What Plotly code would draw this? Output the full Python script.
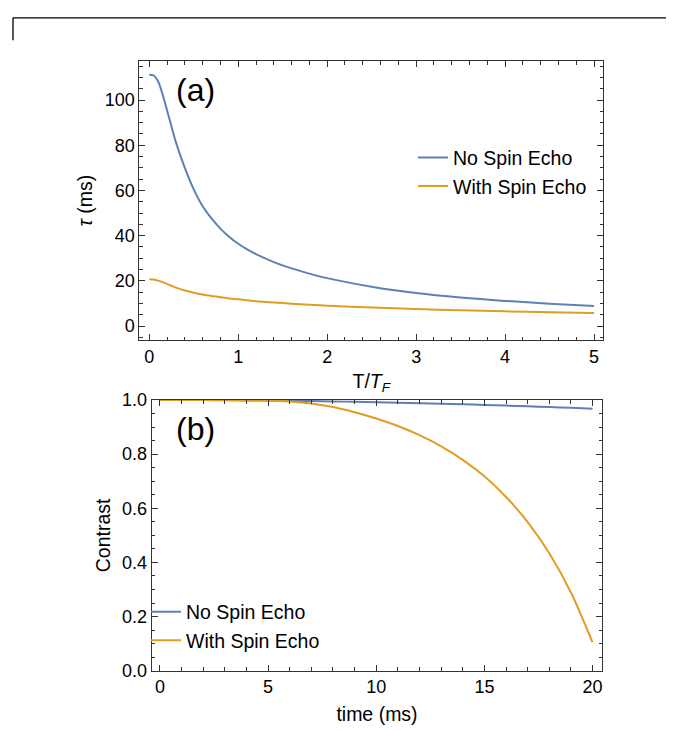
import plotly.graph_objects as go

W, H = 682, 731

# Panel (a): decay time vs reduced temperature
t_over_tf = [0.0, 0.05, 0.1, 0.15, 0.2, 0.25, 0.3, 0.4, 0.5, 0.6, 0.7, 0.8, 0.9, 1.0,
             1.1, 1.2, 1.4, 1.6, 1.8, 2.0, 2.5, 3.0, 3.5, 4.0, 4.5, 5.0]
tau_no_echo = [111.2, 110.9, 108.2, 102.5, 95.5, 88.3, 81.3, 70.0, 60.5, 53.0, 47.6, 43.1, 39.4, 36.4,
               33.9, 31.8, 28.3, 25.5, 23.2, 21.2, 17.4, 14.6, 12.6, 11.1, 9.9, 8.9]
tau_echo = [20.7, 20.6, 20.1, 19.4, 18.6, 17.8, 17.0, 15.7, 14.7, 13.9, 13.3, 12.7, 12.2, 11.8,
            11.4, 11.0, 10.4, 9.9, 9.4, 9.0, 8.2, 7.5, 7.0, 6.5, 6.1, 5.8]

# Panel (b): contrast vs time
time_ms = [0, 1, 2, 3, 4, 5, 6, 7, 8, 9, 10, 11, 12, 13, 14, 15, 16, 17, 18, 19, 20]
contrast_no_echo = [1.0, 0.9999, 0.9997, 0.9993, 0.9987, 0.9980, 0.9971, 0.9960, 0.9948, 0.9934,
                    0.9919, 0.9902, 0.9884, 0.9864, 0.9842, 0.9819, 0.9795, 0.9769, 0.9741, 0.9711, 0.9680]
contrast_echo = [1.0, 1.0, 1.0, 0.9998, 0.999, 0.998, 0.995, 0.987, 0.974, 0.955, 0.932, 0.904,
                 0.870, 0.829, 0.779, 0.718, 0.642, 0.549, 0.434, 0.289, 0.105]

series_names = ["No Spin Echo", "With Spin Echo"]
BLUE = "#5E81B5"
ORANGE = "#E19C24"
FRAME = "#333333"
FONT = "Liberation Sans"


def px_x(p):
    return p / W


def px_y(p):
    return 1 - p / H


def curve(x, y, name, color, xa, ya, leg):
    return go.Scatter(x=x, y=y, name=name, mode="lines",
                      line=dict(color=color, width=2, shape="spline", smoothing=0.8),
                      xaxis=xa, yaxis=ya, legend=leg)


fig = go.Figure()
fig.add_trace(curve(t_over_tf, tau_no_echo, series_names[0], BLUE, "x", "y", "legend"))
fig.add_trace(curve(t_over_tf, tau_echo, series_names[1], ORANGE, "x", "y", "legend"))
fig.add_trace(curve(time_ms, contrast_no_echo, series_names[0], BLUE, "x2", "y2", "legend2"))
fig.add_trace(curve(time_ms, contrast_echo, series_names[1], ORANGE, "x2", "y2", "legend2"))

tick_font = dict(family=FONT, size=18, color="black")
title_font = dict(family=FONT, size=19.5, color="black")
legend_font = dict(family=FONT, size=19.5, color="black")


def frame_axis(**kw):
    base = dict(showline=True, linecolor=FRAME, linewidth=1, mirror="allticks",
                ticks="inside", ticklen=6, tickwidth=1, tickcolor=FRAME,
                showgrid=False, zeroline=False, tickfont=tick_font)
    base.update(kw)
    return base


fig.update_layout(
    width=W, height=H, autosize=False,
    margin=dict(l=0, r=0, t=0, b=0),
    paper_bgcolor="white", plot_bgcolor="white",
    font=dict(family=FONT, color="black"),
    xaxis=frame_axis(domain=[px_x(139.3), px_x(603.3)], range=[-0.112, 5.104],
                     tickvals=[0, 1, 2, 3, 4, 5], anchor="y",
                     minor=dict(dtick=0.2, tick0=0, ticks="inside", ticklen=3.5, tickcolor=FRAME),
                     title=dict(text="T/<i>T</i><sub><i>F</i></sub>", font=title_font, standoff=8)),
    yaxis=frame_axis(domain=[px_y(339.3), px_y(52.7)], range=[-6.2, 117.2],
                     tickvals=[0, 20, 40, 60, 80, 100], anchor="x",
                     minor=dict(dtick=5, tick0=0, ticks="inside", ticklen=3.5, tickcolor=FRAME),
                     title=dict(text="<i>τ</i> (ms)", font=title_font, standoff=6)),
    xaxis2=frame_axis(domain=[px_x(151.7), px_x(602.3)], range=[-0.38, 20.45],
                      tickvals=[0, 5, 10, 15, 20], anchor="y2",
                      minor=dict(dtick=1, tick0=0, ticks="inside", ticklen=3.5, tickcolor=FRAME),
                      title=dict(text="time (ms)", font=title_font, standoff=11)),
    yaxis2=frame_axis(domain=[px_y(679.3), px_y(401)], range=[0, 1.0],
                      tickvals=[0, 0.2, 0.4, 0.6, 0.8, 1.0], tickformat=".1f", anchor="x2",
                      minor=dict(dtick=0.05, tick0=0, ticks="inside", ticklen=3.5, tickcolor=FRAME),
                      title=dict(text="Contrast", font=title_font, standoff=6)),
    legend=dict(x=px_x(413), y=px_y(132), xanchor="left", yanchor="top",
                bgcolor="rgba(0,0,0,0)", font=legend_font, itemwidth=30, tracegroupgap=0),
    legend2=dict(x=px_x(146), y=px_y(599), xanchor="left", yanchor="top",
                 bgcolor="rgba(0,0,0,0)", font=legend_font, itemwidth=30, tracegroupgap=0),
    showlegend=True,
)

# Panel labels
fig.add_annotation(text="(a)", xref="paper", yref="paper", x=px_x(195), y=px_y(82),
                   xanchor="center", yanchor="middle", showarrow=False,
                   font=dict(family=FONT, size=32, color="black"))
fig.add_annotation(text="(b)", xref="paper", yref="paper", x=px_x(195), y=px_y(431),
                   xanchor="center", yanchor="middle", showarrow=False,
                   font=dict(family=FONT, size=32, color="black"))

# Corner of the enclosing frame along the top edge
fig.add_shape(type="line", xref="paper", yref="paper",
              x0=px_x(13), x1=px_x(666), y0=px_y(8), y1=px_y(8),
              line=dict(color="black", width=1.3))
fig.add_shape(type="line", xref="paper", yref="paper",
              x0=px_x(13), x1=px_x(13), y0=px_y(8), y1=px_y(31),
              line=dict(color="black", width=1.3))

fig.write_html("out.html")
